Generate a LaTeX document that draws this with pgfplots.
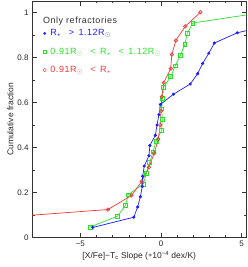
\documentclass[border=0pt]{standalone}
\usepackage{pgfplots}
\pgfplotsset{compat=1.18}
\usepackage{fontspec}
\setmainfont{Liberation Sans}
\newfontfamily\legfont[LetterSpace=6]{Liberation Sans}
\usetikzlibrary{calc}
\definecolor{cblue}{RGB}{30,30,255}
\definecolor{cgreen}{RGB}{40,225,40}
\definecolor{cred}{RGB}{240,55,55}
\begin{document}
\begin{tikzpicture}
\begin{axis}[
  scale only axis, width=214.5pt, height=236.7pt,
  xmin=-8, xmax=5.3, ymin=0, ymax=1.05,
  xtick={-5,0,5}, xticklabels={−5,0,5}, minor x tick num=4,
  ytick={0,0.2,0.4,0.6,0.8,1}, yticklabels={0,0.2,0.4,0.6,0.8,1}, minor y tick num=1,
  tick align=inside, major tick length=5pt, minor tick length=2.5pt,
  every tick/.style={black!80, line width=0.5pt},
  axis line style={black!80, line width=0.6pt},
  tick label style={font=\fontsize{8}{9}\selectfont, black!85},
  /pgf/number format/assume math mode=true,
  xlabel={[X/Fe]−T\textsubscript{c} Slope (\raisebox{0.3ex}{$\ast$}10\textsuperscript{−4} dex/K)},
  ylabel={Cumulative fraction},
  label style={font=\fontsize{8.5}{10}\selectfont, black!85},
  xlabel shift=-2pt, ylabel shift=-3pt,
  legend style={draw=none, fill=none, at={(0.045,0.893)}, anchor=north west,
    font=\legfont\fontsize{9}{10}\selectfont, row sep=6.5pt, inner sep=1pt},
  legend cell align=left,
]
\addlegendimage{only marks, mark=*, cblue, mark size=1.2pt}
\addlegendentry[text=cblue]{\hspace{2pt}R\textsubscript{$\star$} \enspace>\enspace 1.12R\textsubscript{$\odot$}}
\addlegendimage{only marks, mark=square, cgreen, mark size=1.8pt}
\addlegendentry[text=cgreen]{\hspace{2pt}0.91R\textsubscript{$\odot$} \enspace<\enspace R\textsubscript{$\star$} \enspace<\enspace 1.12R\textsubscript{$\odot$}}
\addlegendimage{only marks, mark=o, cred, mark size=1.7pt}
\addlegendentry[text=cred]{\hspace{2pt}0.91R\textsubscript{$\odot$} \enspace<\enspace R\textsubscript{$\star$}}

% green
\addplot[forget plot, cgreen, line width=0.7pt, mark=square, mark size=1.9pt] coordinates {
(-4.40,0.0476)(-2.70,0.0952)(-2.20,0.1429)(-2.04,0.1905)(-1.10,0.2381)
(-0.90,0.2857)(-0.70,0.3333)(-0.50,0.3810)(-0.30,0.4286)(0.04,0.4762)
(0.08,0.5238)(0.04,0.5714)(0.08,0.6190)(0.15,0.6667)(0.60,0.7143)
(0.88,0.7619)(1.20,0.8095)(1.48,0.8571)(1.62,0.9048)(1.97,0.9524)(6.4,1.0)};
% red
\addplot[forget plot, cred, line width=0.7pt, mark=o, mark size=1.7pt] coordinates {
(-15,0.0625)(-3.29,0.125)(-1.83,0.1875)(-1.20,0.25)(-0.75,0.3125)
(-0.42,0.375)(-0.17,0.4375)(-0.05,0.5)(0.0,0.5625)(0.05,0.625)
(0.17,0.6875)(0.60,0.75)(0.67,0.8125)(0.92,0.875)(1.50,0.9375)(2.44,1.0)};
% blue
\addplot[forget plot, cblue, line width=0.7pt, mark=*, mark size=1.2pt] coordinates {
(-4.23,0.0455)(-1.69,0.0909)(-1.45,0.1364)(-1.28,0.1818)(-1.16,0.2273)
(-1.14,0.2727)(-1.04,0.3182)(-0.75,0.3636)(-0.69,0.4091)(-0.35,0.4545)
(-0.25,0.5)(-0.13,0.5455)(-0.04,0.5909)(0.77,0.6364)(1.81,0.6818)
(2.27,0.7273)(2.58,0.7727)(2.96,0.8182)(3.31,0.8636)(4.73,0.9091)
(7.5,0.9545)(10,1.0)};
\node[anchor=west, font=\legfont\fontsize{9}{10}\selectfont, black!80] at (axis description cs:0.035,0.913) {Only refractories};
\end{axis}
\pgfresetboundingbox
\path ($(current axis.south west)+(-32pt,-29.3pt)$) rectangle ($(current axis.north east)+(1.5pt,1pt)$);
\end{tikzpicture}
\end{document}
